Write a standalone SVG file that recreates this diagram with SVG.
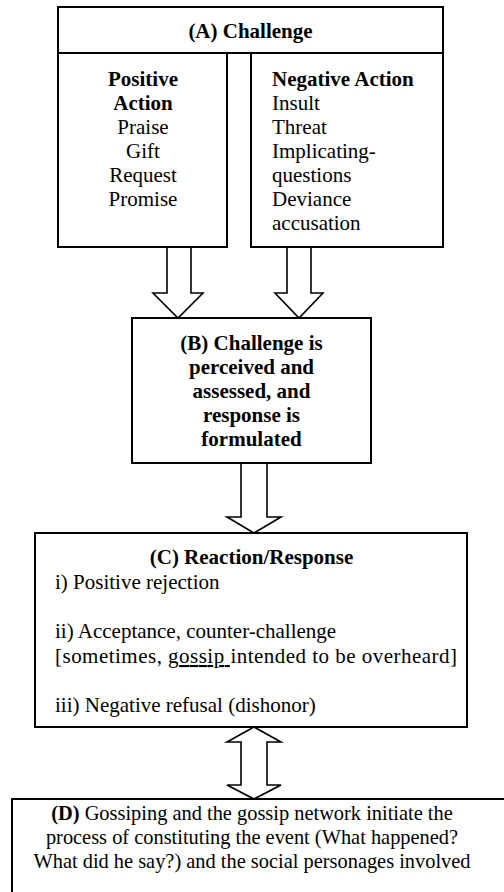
<svg xmlns="http://www.w3.org/2000/svg" width="504" height="892" viewBox="0 0 504 892">
<style>
.box{fill:#fff;stroke:#000;stroke-width:2}
.arr{fill:#fff;stroke:#000;stroke-width:1.6;stroke-linejoin:miter}
text{font-family:"Liberation Serif","Times New Roman",serif;font-size:21px;fill:#000}
.b{font-weight:bold}
.c{text-anchor:middle}
.d{font-size:20.4px}
</style>
<rect width="504" height="892" fill="#fff"/>
<g id="connectors">
<polygon class="arr" points="167,247 191,247 191,293 203,293 178,318 153,293 167,293"/>
<polygon class="arr" points="287,247 311,247 311,293 323,293 299,318 275,293 287,293"/>
<polygon class="arr" points="241,463 267,463 267,517 281,517 254,533 227,517 241,517"/>
<polygon class="arr" points="254,727 281,742 267,742 267,785 281,785 254,799 227,785 241,785 241,742 227,742"/>
</g>
<g id="nodeA">
<rect class="box" x="58" y="7" width="385" height="46"/>
<text class="b c" x="250.5" y="38">(A) Challenge</text>
</g>
<g id="nodeA1">
<rect class="box" x="58" y="53" width="169" height="194"/>
<text class="b c" x="143" y="86">Positive</text>
<text class="b c" x="143" y="110">Action</text>
<text class="c" x="143" y="134">Praise</text>
<text class="c" x="143" y="158">Gift</text>
<text class="c" x="143" y="182">Request</text>
<text class="c" x="143" y="206">Promise</text>
</g>
<g id="nodeA2">
<rect class="box" x="251" y="53" width="192" height="194"/>
<text class="b" x="272" y="86">Negative Action</text>
<text x="272" y="110">Insult</text>
<text x="272" y="134">Threat</text>
<text x="272" y="158">Implicating-</text>
<text x="272" y="182">questions</text>
<text x="272" y="206">Deviance</text>
<text x="272" y="230">accusation</text>
</g>
<g id="nodeB">
<rect class="box" x="132" y="318" width="239" height="145"/>
<text class="b c" x="251.5" y="350">(B) Challenge is</text>
<text class="b c" x="251.5" y="374">perceived and</text>
<text class="b c" x="251.5" y="398">assessed, and</text>
<text class="b c" x="251.5" y="422">response is</text>
<text class="b c" x="251.5" y="446">formulated</text>
</g>
<g id="nodeC">
<rect class="box" x="35" y="533" width="432" height="194"/>
<text class="b c" x="251.5" y="564">(C) Reaction/Response</text>
<text x="55" y="589">i) Positive rejection</text>
<text x="55" y="638">ii) Acceptance, counter-challenge</text>
<text x="55" y="663" textLength="402" lengthAdjust="spacing">[sometimes, <tspan text-decoration="underline">gossip </tspan>intended to be overheard]</text>
<text x="55" y="712">iii) Negative refusal (dishonor)</text>
</g>
<g id="nodeD">
<rect class="box" x="12" y="799" width="500" height="100"/>
<text class="c d" x="252" y="820"><tspan class="b">(D)</tspan> Gossiping and the gossip network initiate the</text>
<text class="c d" x="252" y="844">process of constituting the event (What happened?</text>
<text class="c d" x="252" y="868">What did he say?) and the social personages involved</text>
</g>
</svg>
